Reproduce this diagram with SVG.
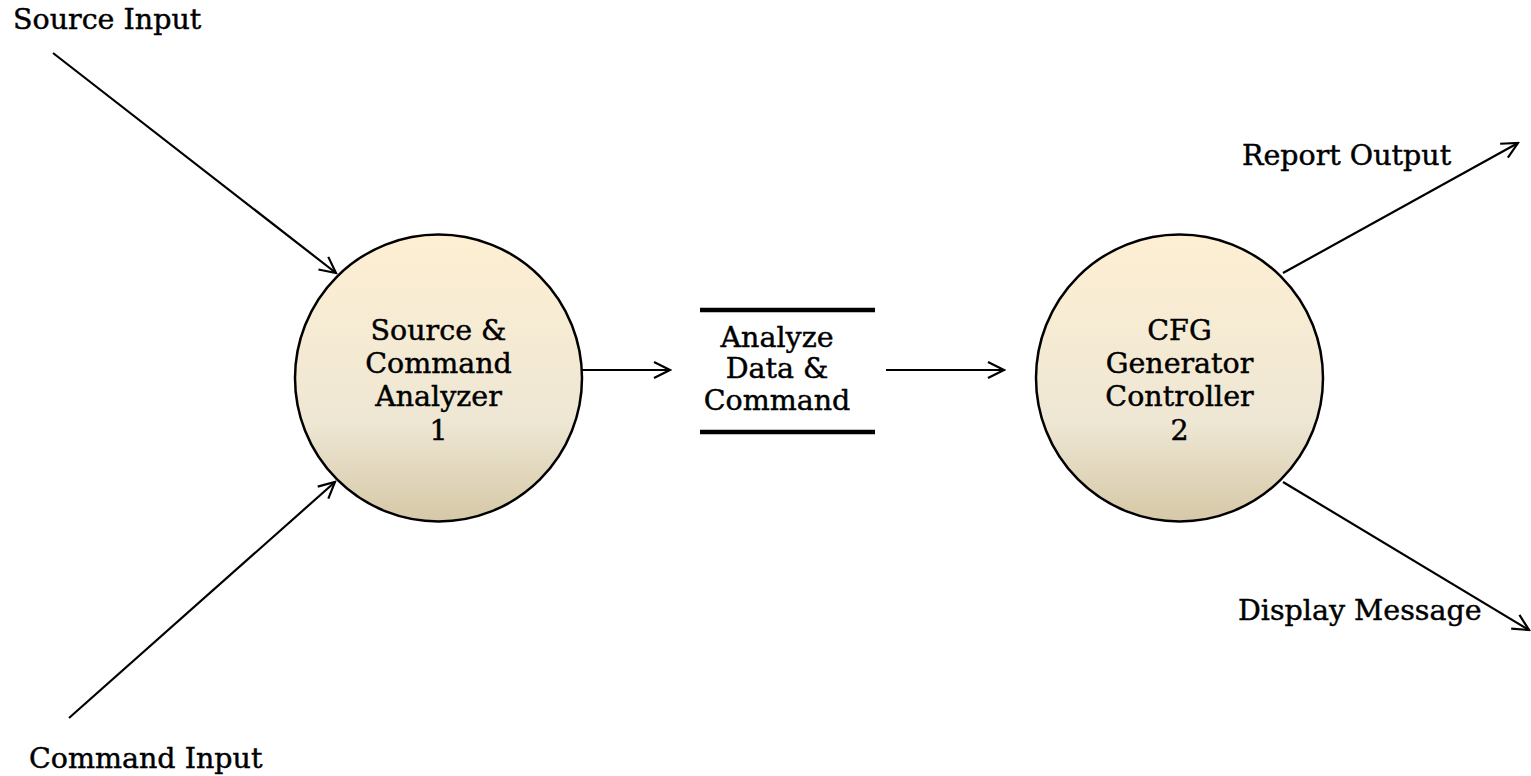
<svg xmlns="http://www.w3.org/2000/svg" width="1531" height="776" viewBox="0 0 1531 776">
<defs>
<linearGradient id="g" x1="0" y1="0" x2="0" y2="1">
<stop offset="0" stop-color="#FEEFD3"/>
<stop offset="0.65" stop-color="#EEE7D4"/>
<stop offset="1" stop-color="#D6C8A7"/>
</linearGradient>
<marker id="a" viewBox="0 0 20 20" refX="18" refY="10" markerWidth="20" markerHeight="20" markerUnits="userSpaceOnUse" orient="auto">
<path d="M2,2 L18,10 L2,18" fill="none" stroke="#000" stroke-width="2.2"/>
</marker>
<style>
.t{font-family:"DejaVu Serif",serif;font-size:28.5px;fill:#000;stroke:#000;stroke-width:0.45px}
.c{text-anchor:middle}
.p{fill:url(#g);stroke:#000;stroke-width:2.5}
.l{stroke:#000;stroke-width:2.2;fill:none;marker-end:url(#a)}
.s{stroke:#000;stroke-width:4.5}
</style>
</defs>
<rect width="1531" height="776" fill="#fff"/>
<g id="connectors">
<line class="l" x1="53" y1="53" x2="336" y2="273"/>
<line class="l" x1="69" y1="718" x2="335" y2="482"/>
<line class="l" x1="582" y1="370" x2="670" y2="370"/>
<line class="l" x1="886" y1="370" x2="1004" y2="370"/>
<line class="l" x1="1283" y1="273" x2="1518" y2="143"/>
<line class="l" x1="1283" y1="482" x2="1529" y2="630"/>
</g>
<g id="label-source-input"><text class="t" x="13" y="29">Source Input</text></g>
<g id="label-command-input"><text class="t" x="29" y="768">Command Input</text></g>
<g id="label-report-output"><text class="t" x="1242" y="165">Report Output</text></g>
<g id="label-display-message"><text class="t" x="1238" y="620">Display Message</text></g>
<g id="node-1">
<circle class="p" cx="438.5" cy="378" r="143.5"/>
<text class="t c" x="438.5" y="340">Source &amp;</text>
<text class="t c" x="438.5" y="373">Command</text>
<text class="t c" x="438.5" y="406">Analyzer</text>
<text class="t c" x="438.5" y="440">1</text>
</g>
<g id="store">
<line class="s" x1="700" y1="310" x2="875" y2="310"/>
<line class="s" x1="700" y1="432" x2="875" y2="432"/>
<text class="t c" x="777" y="347">Analyze</text>
<text class="t c" x="777" y="378">Data &amp;</text>
<text class="t c" x="777" y="410">Command</text>
</g>
<g id="node-2">
<circle class="p" cx="1179.5" cy="378" r="143.5"/>
<text class="t c" x="1179.5" y="340">CFG</text>
<text class="t c" x="1179.5" y="373">Generator</text>
<text class="t c" x="1179.5" y="406">Controller</text>
<text class="t c" x="1179.5" y="440">2</text>
</g>
</svg>
